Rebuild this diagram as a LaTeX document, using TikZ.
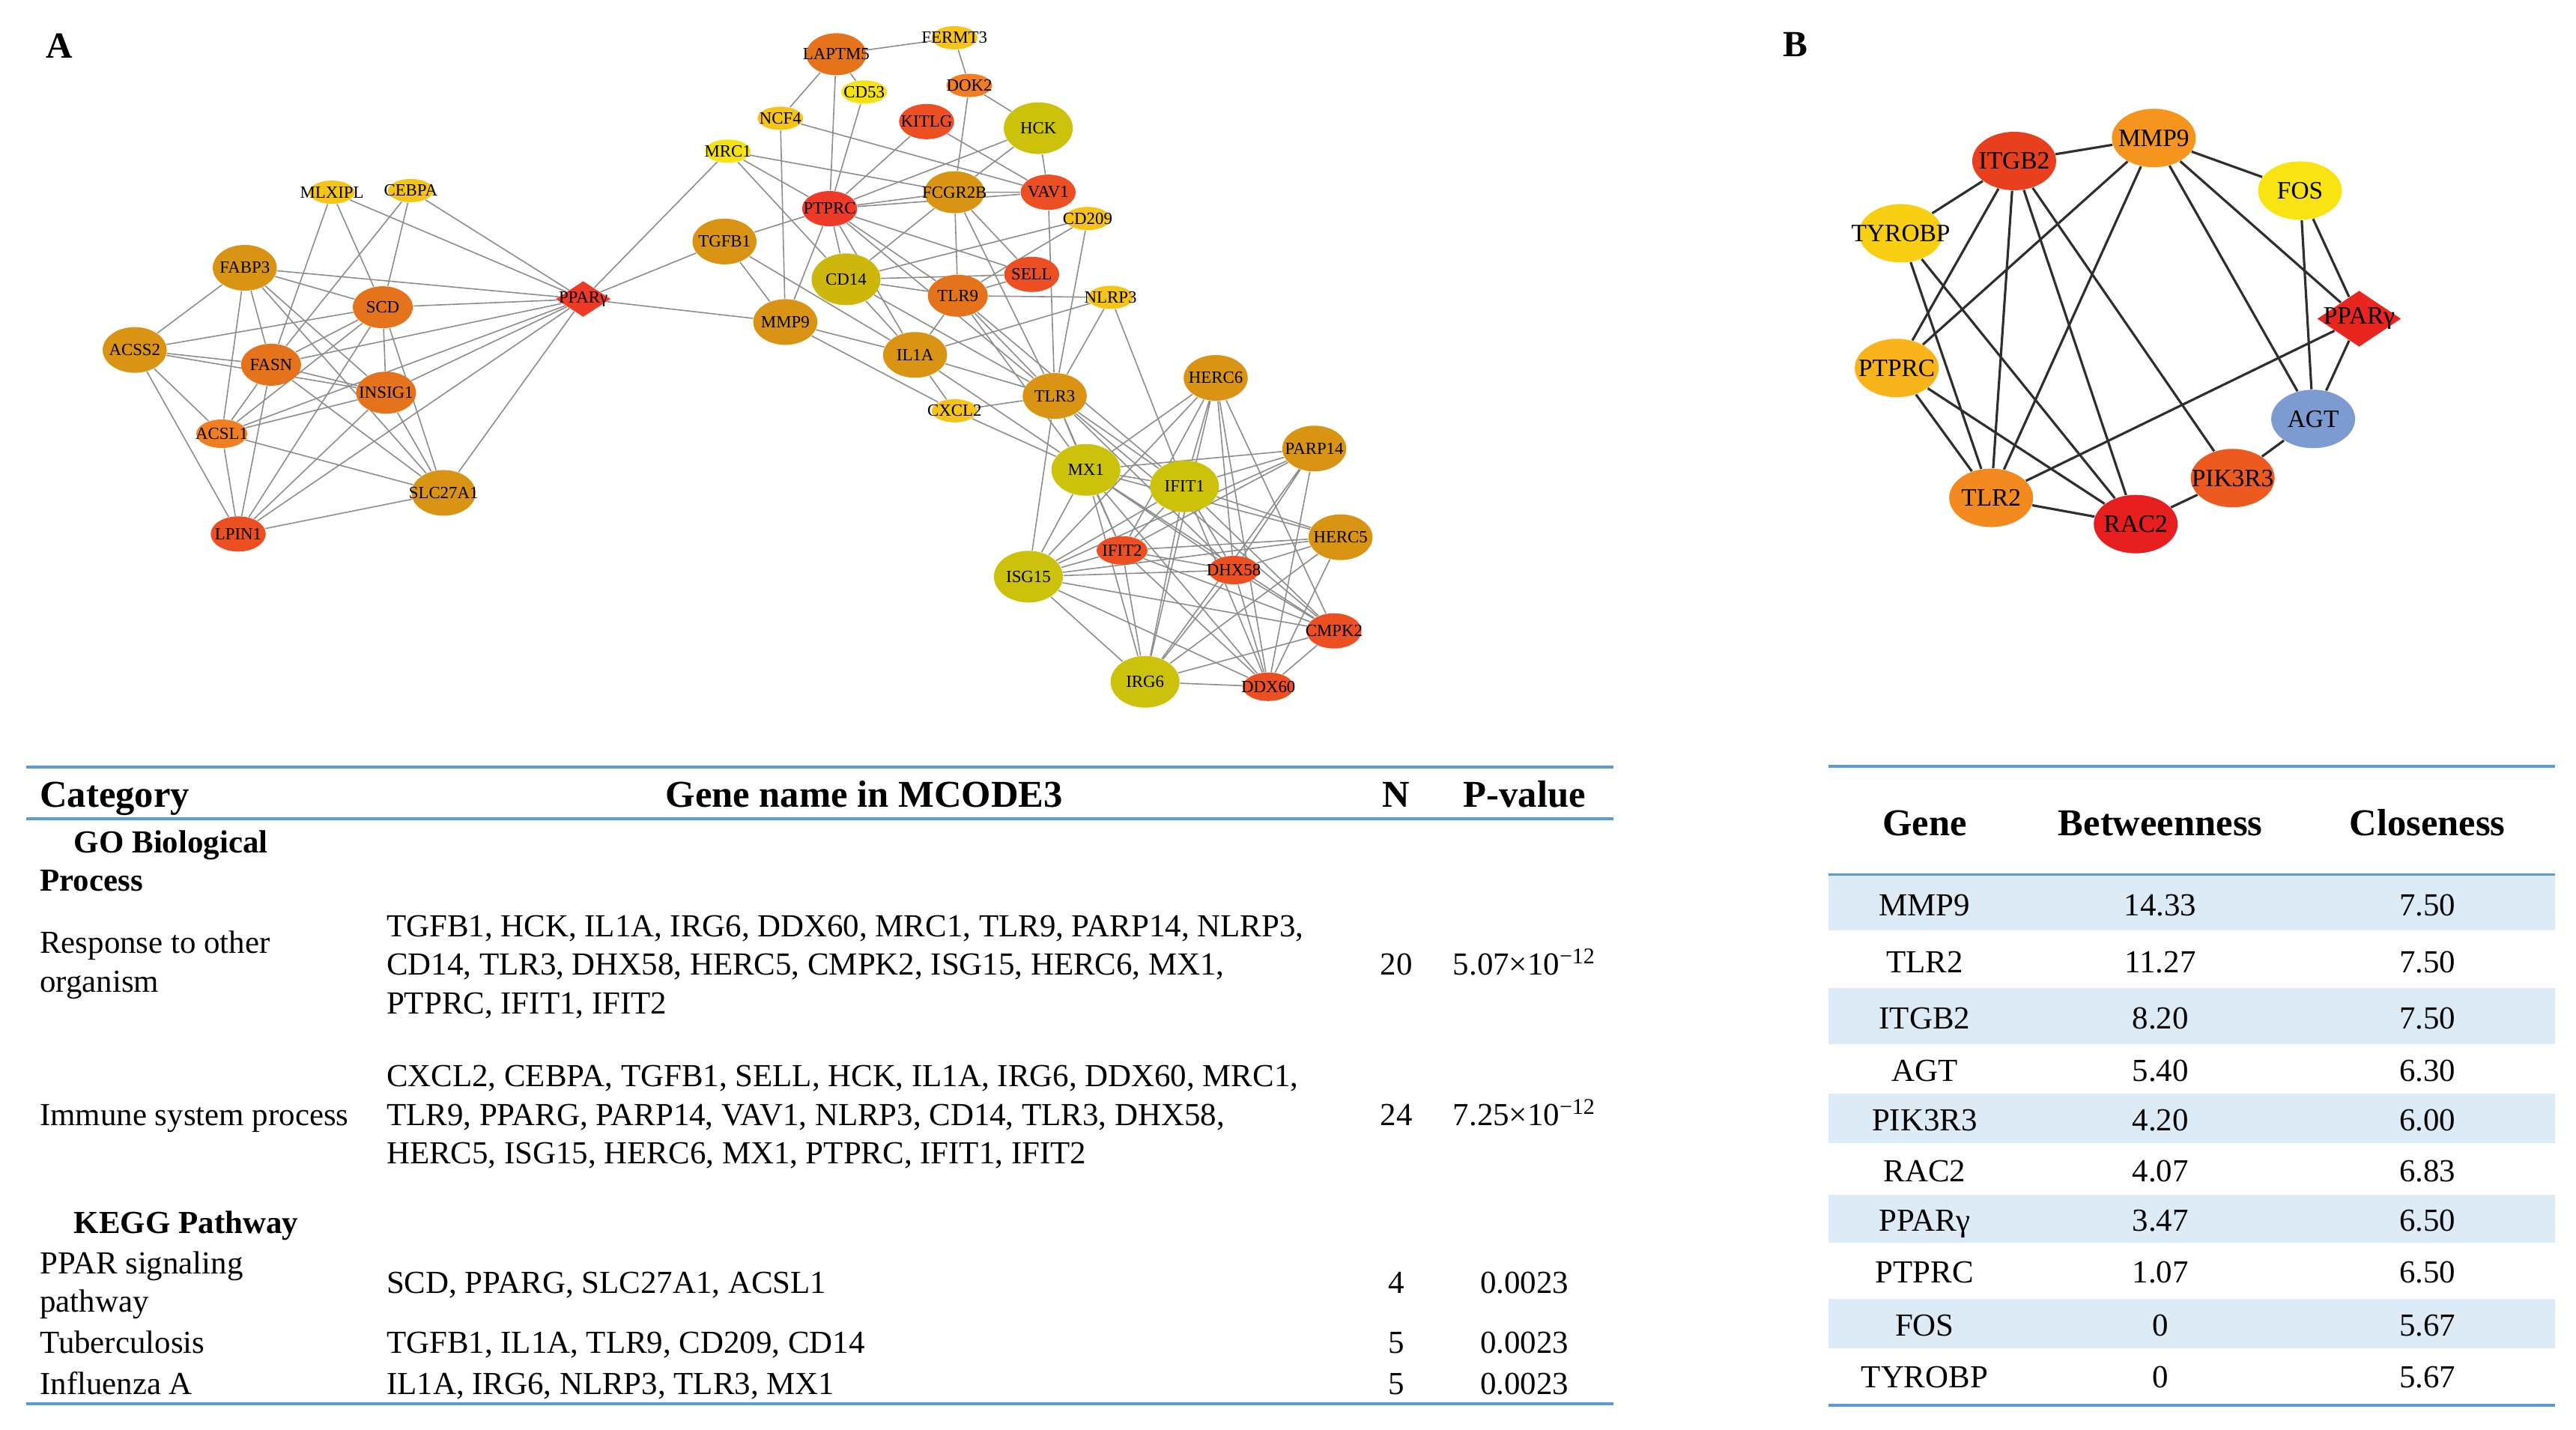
\documentclass[tikz,border=0pt]{standalone}
\usepackage{fontspec}
\setmainfont{Liberation Serif}
\usetikzlibrary{shapes.geometric,backgrounds}

\definecolor{goldA}{HTML}{D99414}
\definecolor{orngA}{HTML}{E4731B}
\definecolor{orngL}{HTML}{F27E22}
\definecolor{redorA}{HTML}{EC5022}
\definecolor{redA}{HTML}{F03A28}
\definecolor{yelA}{HTML}{F6C419}
\definecolor{yelB}{HTML}{F5E212}
\definecolor{oliveA}{HTML}{CCC20B}
\definecolor{oliveB}{HTML}{CDB70C}
\definecolor{itgC}{HTML}{E8401F}
\definecolor{mmpC}{HTML}{F5951E}
\definecolor{fosC}{HTML}{FAE312}
\definecolor{tyrC}{HTML}{F9CF13}
\definecolor{ppbC}{HTML}{E8251F}
\definecolor{ptpC}{HTML}{F8B41A}
\definecolor{agtC}{HTML}{7B9BD1}
\definecolor{pikC}{HTML}{EC5A1F}
\definecolor{tlrC}{HTML}{F28A1F}
\definecolor{racC}{HTML}{E61E1E}
\definecolor{ruleblue}{HTML}{5B9BD5}
\definecolor{shadeblue}{HTML}{DDEBF7}

\newcommand{\glab}[1]{\makebox[0pt]{#1}}

\tikzset{
  gA/.style={ellipse, inner sep=0pt, font=\fontsize{6.5}{6.5}\selectfont},
  bigA/.style={gA, minimum width=8.55mm, minimum height=6.1mm},
  midA/.style={gA, minimum width=8.0mm, minimum height=5.6mm},
  olvA/.style={gA, minimum width=9.2mm, minimum height=6.9mm},
  smlA/.style={gA, minimum width=6.1mm, minimum height=3.1mm},
  redsz/.style={gA, minimum width=7.35mm, minimum height=4.7mm},
  lowA/.style={gA, minimum width=6.8mm, minimum height=3.8mm},
  dmA/.style={diamond, inner sep=0pt, minimum width=7.35mm, minimum height=4.8mm, font=\fontsize{6.5}{6.5}\selectfont},
  gB/.style={ellipse, inner sep=0pt, minimum width=11.2mm, minimum height=7.8mm, font=\fontsize{9.5}{9.5}\selectfont},
  dmB/.style={diamond, inner sep=0pt, minimum width=11.2mm, minimum height=7.5mm, font=\fontsize{9.5}{9.5}\selectfont},
  edA/.style={draw=black!45, line width=0.45pt},
  edB/.style={draw=black!82, line width=0.9pt},
  celltext/.style={inner sep=0pt, font=\fontsize{12.2}{14.6}\selectfont},
  subhead/.style={inner sep=0pt, font=\fontsize{12.2}{14.6}\selectfont\bfseries},
  headtext/.style={inner sep=0pt, font=\fontsize{14.4}{17}\selectfont\bfseries},
  tabrule/.style={draw=ruleblue, line width=1pt},
  panel/.style={inner sep=0pt, font=\fontsize{14}{14}\selectfont\bfseries},
}

\begin{document}
\begin{tikzpicture}[x=0.2193mm, y=-0.2193mm]
\useasboundingbox (0,0) rectangle (1568,870);

\node[panel] (pa) at (36,28) {A};
\node[panel] (pb) at (1093,27) {B};

% network A, left part
\node[smlA, fill=yelA] (mlx) at (202,117) {\glab{MLXIPL}};
\node[smlA, fill=yelA] (ceb) at (250,116) {\glab{CEBPA}};
\node[bigA, fill=goldA] (fab) at (149,163) {\glab{FABP3}};
\node[midA, fill=orngA] (scd) at (233,187) {\glab{SCD}};
\node[dmA, fill=redA] (ppa) at (355,182) {\glab{PPARγ}};
\node[bigA, fill=goldA] (acs) at (82,213) {\glab{ACSS2}};
\node[midA, fill=orngA] (fas) at (165,222) {\glab{FASN}};
\node[midA, fill=orngA] (ins) at (235,239) {\glab{INSIG1}};
\node[lowA, fill=orngL] (acl) at (135,264) {\glab{ACSL1}};
\node[bigA, fill=goldA] (slc) at (270,300) {\glab{SLC27A1}};
\node[redsz, fill=redorA] (lpn) at (145,325) {\glab{LPIN1}};

% network A, middle part
\node[midA, fill=orngA] (lap) at (509,33) {\glab{LAPTM5}};
\node[smlA, fill=yelA] (fer) at (581,23) {\glab{FERMT3}};
\node[smlA, fill=yelB] (c53) at (526,56) {\glab{CD53}};
\node[smlA, fill=orngL] (dok) at (590,52) {\glab{DOK2}};
\node[smlA, fill=yelA] (ncf) at (475,72) {\glab{NCF4}};
\node[redsz, fill=redorA] (kit) at (564,74) {\glab{KITLG}};
\node[olvA, fill=oliveA] (hck) at (632,78) {\glab{HCK}};
\node[smlA, fill=yelB] (mrc) at (443,92) {\glab{MRC1}};
\node[midA, fill=goldA] (fcg) at (581,117) {\glab{FCGR2B}};
\node[redsz, fill=redorA] (vav) at (638,117) {\glab{VAV1}};
\node[redsz, fill=redA] (ptp) at (505,127) {\glab{PTPRC}};
\node[smlA, fill=yelA] (c209) at (662,133) {\glab{CD209}};
\node[bigA, fill=goldA] (tgf) at (441,147) {\glab{TGFB1}};
\node[olvA, fill=oliveB] (c14) at (515,170) {\glab{CD14}};
\node[redsz, fill=redorA] (sel) at (628,167) {\glab{SELL}};
\node[midA, fill=orngA] (tl9) at (583,180) {\glab{TLR9}};
\node[smlA, fill=yelA] (nlr) at (676,181) {\glab{NLRP3}};
\node[bigA, fill=goldA] (mmp) at (478,196) {\glab{MMP9}};
\node[bigA, fill=goldA] (il1) at (557,216) {\glab{IL1A}};
\node[smlA, fill=yelA] (cxc) at (581,250) {\glab{CXCL2}};
\node[bigA, fill=goldA] (tl3) at (642,241) {\glab{TLR3}};

% network A, lower part
\node[bigA, fill=goldA] (hc6) at (740,230) {\glab{HERC6}};
\node[bigA, fill=goldA] (p14) at (800,273) {\glab{PARP14}};
\node[olvA, fill=oliveA] (mx1) at (661,286) {\glab{MX1}};
\node[olvA, fill=oliveA] (if1) at (721,296) {\glab{IFIT1}};
\node[bigA, fill=goldA] (hc5) at (816,327) {\glab{HERC5}};
\node[lowA, fill=redorA] (if2) at (683,335) {\glab{IFIT2}};
\node[olvA, fill=oliveA] (isg) at (626,351) {\glab{ISG15}};
\node[lowA, fill=redorA] (dhx) at (751,347) {\glab{DHX58}};
\node[redsz, fill=redorA] (cmp) at (812,384) {\glab{CMPK2}};
\node[olvA, fill=oliveA] (irg) at (697,415) {\glab{IRG6}};
\node[lowA, fill=redorA] (ddx) at (772,418) {\glab{DDX60}};

\begin{pgfonlayer}{background}
\path[edA] (mlx) -- (fas) (mlx) -- (scd) (mlx) -- (ppa) (ceb) -- (fas) (ceb) -- (scd) (ceb) -- (ppa);
\path[edA] (fab) -- (ppa) (fab) -- (scd) (fab) -- (acs) (fab) -- (acl) (fab) -- (fas) (fab) -- (ins) (fab) -- (slc);
\path[edA] (scd) -- (ppa) (scd) -- (acs) (scd) -- (fas) (scd) -- (acl) (scd) -- (lpn) (scd) -- (ins) (scd) -- (slc);
\path[edA] (acs) -- (fas) (acs) -- (ins) (acs) -- (acl) (acs) -- (lpn);
\path[edA] (fas) -- (ppa) (fas) -- (ins) (fas) -- (acl) (fas) -- (lpn) (fas) -- (slc);
\path[edA] (ins) -- (ppa) (ins) -- (acl) (ins) -- (lpn) (ins) -- (slc);
\path[edA] (acl) -- (ppa) (acl) -- (slc) (acl) -- (lpn) (lpn) -- (ppa) (lpn) -- (slc) (slc) -- (ppa);
\path[edA] (ppa) -- (mrc) (ppa) -- (tgf) (ppa) -- (mmp);
\path[edA] (lap) -- (fer) (lap) -- (ncf) (lap) -- (ptp) (lap) -- (c53) (c53) -- (ptp) (fer) -- (dok) (dok) -- (fcg) (dok) -- (hck);
\path[edA] (ncf) -- (mmp) (ncf) -- (vav) (kit) -- (ptp) (kit) -- (vav) (hck) -- (ptp) (hck) -- (fcg) (hck) -- (vav);
\path[edA] (mrc) -- (fcg) (mrc) -- (ptp) (mrc) -- (c14);
\path[edA] (ptp) -- (fcg) (ptp) -- (vav) (ptp) -- (tgf) (ptp) -- (mmp) (ptp) -- (c14) (ptp) -- (sel) (ptp) -- (tl9) (ptp) -- (tl3) (ptp) -- (il1);
\path[edA] (fcg) -- (vav) (fcg) -- (tl9) (fcg) -- (sel) (fcg) -- (tl3) (fcg) -- (c14) (vav) -- (tl3);
\path[edA] (c209) -- (c14) (c209) -- (tl9) (c209) -- (tl3) (tgf) -- (mmp) (tgf) -- (il1);
\path[edA] (c14) -- (sel) (c14) -- (tl9) (c14) -- (il1) (c14) -- (tl3) (sel) -- (tl9);
\path[edA] (tl9) -- (nlr) (tl9) -- (il1) (tl9) -- (tl3) (tl9) -- (mx1) (tl9) -- (if1);
\path[edA] (nlr) -- (il1) (nlr) -- (tl3) (nlr) -- (if1);
\path[edA] (mmp) -- (il1) (mmp) -- (cxc) (il1) -- (tl3) (il1) -- (cxc) (il1) -- (mx1) (cxc) -- (tl3) (cxc) -- (mx1);
\path[edA] (tl3) -- (isg) (tl3) -- (mx1) (tl3) -- (if2) (tl3) -- (dhx) (tl3) -- (cmp) (tl3) -- (if1);
\path[edA] (hc6) -- (mx1) (hc6) -- (if1) (hc6) -- (isg) (hc6) -- (if2) (hc6) -- (dhx) (hc6) -- (cmp) (hc6) -- (ddx) (hc6) -- (irg);
\path[edA] (p14) -- (mx1) (p14) -- (if1) (p14) -- (isg) (p14) -- (dhx) (p14) -- (irg) (p14) -- (ddx) (p14) -- (if2);
\path[edA] (mx1) -- (if1) (mx1) -- (isg) (mx1) -- (if2) (mx1) -- (dhx) (mx1) -- (irg) (mx1) -- (cmp) (mx1) -- (ddx) (mx1) -- (hc5);
\path[edA] (if1) -- (isg) (if1) -- (if2) (if1) -- (dhx) (if1) -- (irg) (if1) -- (hc5) (if1) -- (cmp) (if1) -- (ddx);
\path[edA] (isg) -- (if2) (isg) -- (dhx) (isg) -- (hc5) (isg) -- (cmp) (isg) -- (irg) (isg) -- (ddx);
\path[edA] (if2) -- (dhx) (if2) -- (hc5) (if2) -- (irg) (if2) -- (cmp) (if2) -- (ddx);
\path[edA] (dhx) -- (hc5) (dhx) -- (cmp) (dhx) -- (irg) (dhx) -- (ddx) (hc5) -- (ddx) (hc5) -- (irg);
\path[edA] (cmp) -- (irg) (cmp) -- (ddx) (irg) -- (ddx);
\end{pgfonlayer}

% network B
\node[gB, fill=itgC] (itg) at (1226,98) {\glab{ITGB2}};
\node[gB, fill=mmpC] (mmpb) at (1311,84) {\glab{MMP9}};
\node[gB, fill=fosC] (fos) at (1400,116) {\glab{FOS}};
\node[gB, fill=tyrC] (tyr) at (1157,142) {\glab{TYROBP}};
\node[dmB, fill=ppbC] (ppb) at (1436,194) {\glab{PPARγ}};
\node[gB, fill=ptpC] (ptpb) at (1154.5,224) {\glab{PTPRC}};
\node[gB, fill=agtC] (agt) at (1408,255) {\glab{AGT}};
\node[gB, fill=pikC] (pik) at (1359,291) {\glab{PIK3R3}};
\node[gB, fill=tlrC] (tlr) at (1212,303) {\glab{TLR2}};
\node[gB, fill=racC] (rac) at (1300,319) {\glab{RAC2}};

\begin{pgfonlayer}{background}
\path[edB] (itg) -- (mmpb) (itg) -- (tyr) (itg) -- (ptpb) (itg) -- (tlr) (itg) -- (rac) (itg) -- (pik);
\path[edB] (mmpb) -- (fos) (mmpb) -- (ptpb) (mmpb) -- (tlr) (mmpb) -- (agt) (mmpb) -- (ppb);
\path[edB] (fos) -- (agt) (fos) -- (ppb) (tyr) -- (tlr) (tyr) -- (rac) (ptpb) -- (tlr) (ptpb) -- (rac);
\path[edB] (ppb) -- (tlr) (ppb) -- (agt) (agt) -- (pik) (pik) -- (rac) (tlr) -- (rac);
\end{pgfonlayer}

% enrichment table
\draw[tabrule] (16,467) -- (982,467);
\draw[tabrule] (16,498.4) -- (982,498.4);
\draw[tabrule] (16,854.5) -- (982,854.5);
\node[headtext, anchor=base west] (hcat) at (24,491.4) {Category};
\node[headtext, anchor=base] (hgen) at (526,491.4) {Gene name in MCODE3};
\node[headtext, anchor=base] (hn) at (850,491.4) {N};
\node[headtext, anchor=base] (hp) at (928,491.4) {P-value};
\node[subhead, anchor=base west] (go1) at (44.8,519) {GO Biological};
\node[subhead, anchor=base west] (go2) at (24,542.4) {Process};
\node[celltext, anchor=base west] (c1a) at (24,580.3) {Response to other};
\node[celltext, anchor=base west] (c1b) at (24,603.8) {organism};
\node[celltext, anchor=base west] (g1a) at (235,570) {TGFB1, HCK, IL1A, IRG6, DDX60, MRC1, TLR9, PARP14, NLRP3,};
\node[celltext, anchor=base west] (g1b) at (235,593.4) {CD14, TLR3, DHX58, HERC5, CMPK2, ISG15, HERC6, MX1,};
\node[celltext, anchor=base west] (g1c) at (235,617) {PTPRC, IFIT1, IFIT2};
\node[celltext, anchor=base] (n1) at (850,593.4) {20};
\node[celltext, anchor=base] (p1) at (928,593.4) {5.07×10\textsuperscript{−12}};
\node[celltext, anchor=base west] (c2) at (24,685) {Immune system process};
\node[celltext, anchor=base west] (g2a) at (235,661.5) {CXCL2, CEBPA, TGFB1, SELL, HCK, IL1A, IRG6, DDX60, MRC1,};
\node[celltext, anchor=base west] (g2b) at (235,685) {TLR9, PPARG, PARP14, VAV1, NLRP3, CD14, TLR3, DHX58,};
\node[celltext, anchor=base west] (g2c) at (235,708.5) {HERC5, ISG15, HERC6, MX1, PTPRC, IFIT1, IFIT2};
\node[celltext, anchor=base] (n2) at (850,685) {24};
\node[celltext, anchor=base] (p2) at (928,685) {7.25×10\textsuperscript{−12}};
\node[subhead, anchor=base west] (kegg) at (44.8,750.5) {KEGG Pathway};
\node[celltext, anchor=base west] (c3a) at (24,775.3) {PPAR signaling};
\node[celltext, anchor=base west] (c3b) at (24,798.8) {pathway};
\node[celltext, anchor=base west] (g3) at (235,787.1) {SCD, PPARG, SLC27A1, ACSL1};
\node[celltext, anchor=base] (n3) at (850,787.1) {4};
\node[celltext, anchor=base] (p3) at (928,787.1) {0.0023};
\node[celltext, anchor=base west] (c4) at (24,823.8) {Tuberculosis};
\node[celltext, anchor=base west] (g4) at (235,823.8) {TGFB1, IL1A, TLR9, CD209, CD14};
\node[celltext, anchor=base] (n4) at (850,823.8) {5};
\node[celltext, anchor=base] (p4) at (928,823.8) {0.0023};
\node[celltext, anchor=base west] (c5) at (24,848.7) {Influenza A};
\node[celltext, anchor=base west] (g5) at (235,848.7) {IL1A, IRG6, NLRP3, TLR3, MX1};
\node[celltext, anchor=base] (n5) at (850,848.7) {5};
\node[celltext, anchor=base] (p5) at (928,848.7) {0.0023};

% centrality table
\fill[shadeblue] (1113,532.4) rectangle (1555,566.5);
\fill[shadeblue] (1113,601.3) rectangle (1555,635.4);
\fill[shadeblue] (1113,665.5) rectangle (1555,695.6);
\fill[shadeblue] (1113,727) rectangle (1555,756.6);
\fill[shadeblue] (1113,790.6) rectangle (1555,820.5);
\draw[tabrule] (1113,466.5) -- (1555,466.5);
\draw[tabrule] (1113,532.4) -- (1555,532.4);
\draw[tabrule] (1113,855.3) -- (1555,855.3);
\node[headtext, anchor=base] (hg) at (1171.5,508.4) {Gene};
\node[headtext, anchor=base] (hb) at (1315,508.4) {Betweenness};
\node[headtext, anchor=base] (hc) at (1477.5,508.4) {Closeness};
\node[celltext, anchor=base] (r1g) at (1171.5,557.5) {MMP9};
\node[celltext, anchor=base] (r1b) at (1315,557.5) {14.33};
\node[celltext, anchor=base] (r1c) at (1477.5,557.5) {7.50};
\node[celltext, anchor=base] (r2g) at (1171.5,592.1) {TLR2};
\node[celltext, anchor=base] (r2b) at (1315,592.1) {11.27};
\node[celltext, anchor=base] (r2c) at (1477.5,592.1) {7.50};
\node[celltext, anchor=base] (r3g) at (1171.5,626.1) {ITGB2};
\node[celltext, anchor=base] (r3b) at (1315,626.1) {8.20};
\node[celltext, anchor=base] (r3c) at (1477.5,626.1) {7.50};
\node[celltext, anchor=base] (r4g) at (1171.5,658.1) {AGT};
\node[celltext, anchor=base] (r4b) at (1315,658.1) {5.40};
\node[celltext, anchor=base] (r4c) at (1477.5,658.1) {6.30};
\node[celltext, anchor=base] (r5g) at (1171.5,688.4) {PIK3R3};
\node[celltext, anchor=base] (r5b) at (1315,688.4) {4.20};
\node[celltext, anchor=base] (r5c) at (1477.5,688.4) {6.00};
\node[celltext, anchor=base] (r6g) at (1171.5,719.1) {RAC2};
\node[celltext, anchor=base] (r6b) at (1315,719.1) {4.07};
\node[celltext, anchor=base] (r6c) at (1477.5,719.1) {6.83};
\node[celltext, anchor=base] (r7g) at (1171.5,749.2) {PPARγ};
\node[celltext, anchor=base] (r7b) at (1315,749.2) {3.47};
\node[celltext, anchor=base] (r7c) at (1477.5,749.2) {6.50};
\node[celltext, anchor=base] (r8g) at (1171.5,780.6) {PTPRC};
\node[celltext, anchor=base] (r8b) at (1315,780.6) {1.07};
\node[celltext, anchor=base] (r8c) at (1477.5,780.6) {6.50};
\node[celltext, anchor=base] (r9g) at (1171.5,813.3) {FOS};
\node[celltext, anchor=base] (r9b) at (1315,813.3) {0};
\node[celltext, anchor=base] (r9c) at (1477.5,813.3) {5.67};
\node[celltext, anchor=base] (r10g) at (1171.5,844.7) {TYROBP};
\node[celltext, anchor=base] (r10b) at (1315,844.7) {0};
\node[celltext, anchor=base] (r10c) at (1477.5,844.7) {5.67};
\end{tikzpicture}
\end{document}
